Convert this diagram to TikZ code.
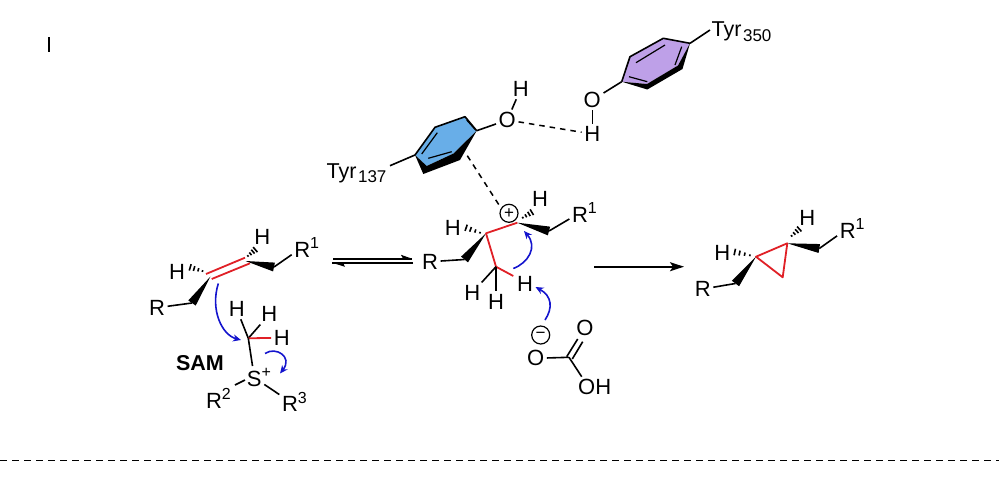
\documentclass[tikz,border=0pt]{standalone}
\usepackage{fontspec}
\setmainfont{Liberation Sans}
\usetikzlibrary{calc,arrows.meta}
\definecolor{bondred}{RGB}{224,32,38}
\definecolor{curlyblue}{RGB}{20,20,205}
\definecolor{ringblue}{RGB}{104,174,232}
\definecolor{ringpurple}{RGB}{190,160,232}
\newcommand{\supa}[1]{\rlap{\raisebox{8.5pt}{\fontsize{16}{16}\selectfont #1}}}
\newcommand{\wedgebond}[3][4.5]{\fill ($(#3)!#1pt!90:(#2)$) -- (#2) -- ($(#3)!#1pt!-90:(#2)$) -- cycle;}
\newcommand{\hashbond}[2]{\foreach \t/\w in {0.1/0.9,0.38/1.7,0.66/2.5,0.92/3.3}{%
  \coordinate (hp) at ($(#1)!\t!(#2)$);
  \draw[bond] ($(hp)!\w pt!90:(#2)$) -- ($(hp)!\w pt!-90:(#2)$);}}
\tikzset{
  bond/.style={line width=1.6pt,black},
  innerbond/.style={line width=1.2pt,black},
  redbond/.style={line width=1.8pt,bondred},
  hbond/.style={line width=1.5pt,black,dash pattern=on 5.5pt off 5pt},
  atom/.style={inner sep=2.5pt,font=\fontsize{22}{22}\selectfont},
  label/.style={inner sep=0pt,anchor=base west,font=\fontsize{21.5}{21.5}\selectfont},
  charge/.style={circle,draw,line width=1.2pt,minimum size=18pt,inner sep=0pt,font=\fontsize{17}{17}\selectfont},
  curly/.style={line width=1.6pt,curlyblue,-{Stealth[length=8pt,width=7pt]}},
}
\begin{document}
\begin{tikzpicture}[x=1pt,y=-1pt]
\useasboundingbox (0,0) rectangle (999,477);

% stray mark and separator
\coordinate (marka) at (49,37); \coordinate (markb) at (49,52);
\draw[line width=1.2pt] (marka) -- (markb);
\coordinate (sepa) at (0,460.5); \coordinate (sepb) at (999,460.5);
\draw[line width=1.3pt,dash pattern=on 6.5pt off 5.5pt] (sepa) -- (sepb);

% ---------- Tyr350 ----------
\coordinate (pa) at (621.7,81.7); \coordinate (pb) at (630,56.7);
\coordinate (pc) at (663.3,38.3); \coordinate (pd) at (690,43.3);
\coordinate (pe) at (682.5,69);   \coordinate (pf) at (647.3,89.5);
\coordinate (pei) at (678,65.5);  \coordinate (pfi) at (647,84);
\fill[ringpurple] (pa) -- (pb) -- (pc) -- (pd) -- (pei) -- (pfi) -- cycle;
\fill[black] (pa) -- (pf) -- (pe) -- (pd) -- (pei) -- (pfi) -- cycle;
\draw[bond,line join=round] (pa) -- (pb) -- (pc) -- (pd);
\coordinate (p1a) at (636,62.7); \coordinate (p1b) at (665,45);
\coordinate (p2a) at (675,65);   \coordinate (p2b) at (681.7,46.7);
\coordinate (p3a) at (629,76.7); \coordinate (p3b) at (647.3,81.7);
\draw[innerbond] (p1a) -- (p1b) (p2a) -- (p2b) (p3a) -- (p3b);
\node[label] (tyr350) at (711.5,36.5) {Tyr\raisebox{-4.5pt}{\hspace{1.5pt}\fontsize{17}{17}\selectfont 350}};
\coordinate (t350) at (710,30);
\draw[bond] (pd) -- (t350);
\node[atom] (o350) at (592.3,100) {O};
\node[atom] (h350) at (592.3,134) {H};
\draw[bond] (pa) -- (o350);
\draw[bond] (o350) -- (h350);

% ---------- Tyr137 ----------
\coordinate (ba) at (415,155);     \coordinate (bb) at (435,127.3);
\coordinate (bc) at (465,116.7);   \coordinate (bd) at (476.7,130.7);
\coordinate (be) at (460,160);     \coordinate (bf) at (423.3,174);
\coordinate (bei) at (453.5,153.5); \coordinate (bfi) at (426.7,166);
\fill[ringblue] (ba) -- (bb) -- (bc) -- (bd) -- (bei) -- (bfi) -- cycle;
\fill[black] (ba) -- (bf) -- (be) -- (bd) -- (bei) -- (bfi) -- cycle;
\draw[bond,line join=round] (ba) -- (bb) -- (bc) -- (bd);
\coordinate (b1a) at (421.7,154);  \coordinate (b1b) at (437.3,132.7);
\coordinate (b2a) at (428.3,158.3); \coordinate (b2b) at (451.7,151.7);
\coordinate (b3a) at (466.7,120);  \coordinate (b3b) at (475,129.3);
\draw[innerbond] (b1a) -- (b1b) (b2a) -- (b2b) (b3a) -- (b3b);
\node[label] (tyr137) at (326.5,178) {Tyr\raisebox{-4.5pt}{\hspace{1.5pt}\fontsize{17}{17}\selectfont 137}};
\coordinate (t137) at (390,165.7);
\draw[bond] (ba) -- (t137);
\node[atom] (o137) at (507.3,120) {O};
\node[atom] (h137) at (520.7,89) {H};
\draw[bond] (bd) -- (o137);
\draw[bond] (o137) -- (h137);
\draw[hbond] (o137) -- (h350);

% ---------- left alkene ----------
\coordinate (ac1) at (210.5,276.5); \coordinate (ac2) at (245.5,261);
\coordinate (ac3) at (192,303);     \coordinate (ac4) at (274,267);
\coordinate (aal) at (206,274);     \coordinate (aar) at (245,257.7);
\coordinate (abl) at (211.7,279);   \coordinate (abr) at (250,263.3);
\wedgebond{ac1}{ac3}
\wedgebond{ac2}{ac4}
\draw[redbond] (aal) -- (aar) (abl) -- (abr);
\node[atom] (ar) at (157,307.7) {R};
\node[atom] (ar1) at (302.3,247.3) {R\supa{1}};
\node[atom] (ahl) at (177,272) {H};
\node[atom] (aht) at (262.3,236.7) {H};
\draw[bond] (ac3) -- (ar);
\draw[bond] (ac4) -- (ar1);
\coordinate (ahla) at (204,271.5); \coordinate (ahlb) at (189,267);
\coordinate (ahta) at (247,256.7); \coordinate (ahtb) at (256,249);
\hashbond{ahla}{ahlb}
\hashbond{ahta}{ahtb}

% ---------- SAM ----------
\coordinate (me) at (248.3,338.3);
\node[atom] (sh1) at (236.7,309) {H};
\node[atom] (sh2) at (269.3,314.3) {H};
\node[atom] (sh3) at (281.7,337.7) {H};
\node[atom] (sulf) at (254.3,377.7) {S\supa{+}};
\node[atom] (r2) at (214,398.3) {R\supa{2}};
\node[atom] (r3) at (290,401.7) {R\supa{3}};
\coordinate (sr2) at (235,385);
\coordinate (sr2s) at (245,380);
\draw[bond] (me) -- (sh1);
\draw[bond] (me) -- (sh2);
\draw[redbond] (me) -- (sh3);
\draw[bond] (me) -- (sulf);
\draw[bond] (sr2s) -- (sr2);
\draw[bond] (sulf) -- (r3);
\node[inner sep=0pt,font=\fontsize{21.5}{21.5}\selectfont\bfseries] (sam) at (200,362.7) {SAM};
\coordinate (cu1a) at (218.3,283.5); \coordinate (cu1b) at (241,340);
\draw[curly] (cu1a) .. controls (210,310) and (222,335) .. (cu1b);
\coordinate (cu2a) at (265,353.5); \coordinate (cu2b) at (280,373.5);
\draw[curly] (cu2a) .. controls (276,346) and (293,357) .. (cu2b);

% equilibrium arrows
\coordinate (eqa) at (333,258.7);  \coordinate (eqb) at (412,258.7);
\coordinate (eqc) at (413,262.7);  \coordinate (eqd) at (332,262.7);
\coordinate (eqe) at (401,254.8);  \coordinate (eqf) at (345,266.8);
\draw[line width=1.6pt] (eqa) -- (eqb);
\draw[line width=1.6pt] (eqc) -- (eqd);
\fill (eqb) -- (eqe) -- (403,258.7) -- cycle;
\fill (eqd) -- (eqf) -- (343,262.7) -- cycle;

% ---------- carbocation ----------
\coordinate (cc1) at (486,233.3); \coordinate (cc2) at (517.3,222.7);
\coordinate (cc3) at (496,266.7); \coordinate (cc4) at (464.5,259.5);
\coordinate (cc5) at (549,231);
\wedgebond{cc1}{cc4}
\wedgebond{cc2}{cc5}
\node[atom] (cr) at (430,261.7) {R};
\node[atom] (cr1) at (580,212.7) {R\supa{1}};
\draw[bond] (cc4) -- (cr);
\draw[bond] (cc5) -- (cr1);
\coordinate (chle) at (513.3,276);
\draw[redbond,line join=round] (cc2) -- (cc1) -- (cc3) -- (chle);
\node[atom] (chr) at (525,284) {H};
\node[atom] (chb1) at (472.3,292.7) {H};
\node[atom] (chb2) at (496,301.7) {H};
\draw[bond] (cc3) -- (chb1);
\draw[bond] (cc3) -- (chb2);
\node[atom,inner sep=0pt] (chl) at (452.7,228.3) {H};
\node[atom,inner sep=0pt] (cht) at (540,199.3) {H};
\coordinate (chla) at (481.7,233.3); \coordinate (chlb) at (464.8,227.3);
\coordinate (chta) at (521.7,218.3); \coordinate (chtb) at (532.7,211.7);
\hashbond{chla}{chlb}
\hashbond{chta}{chtb}
\node[charge] (plus) at (509,213.3) {+};
\coordinate (dsa) at (467.3,155.7); \coordinate (dsb) at (500,206.5);
\draw[hbond] (dsa) -- (dsb);
\coordinate (cu3a) at (513.3,268.5); \coordinate (cu3b) at (524,231);
\draw[curly] (cu3a) .. controls (528,263) and (538,247) .. (cu3b);
\coordinate (cu4a) at (545,320); \coordinate (cu4b) at (535.5,287);
\draw[curly] (cu4a) .. controls (553,308) and (552,296) .. (cu4b);

% ---------- bicarbonate ----------
\node[charge] (minus) at (540.7,335) {−};
\node[atom] (bo1) at (535.7,358.3) {O};
\coordinate (bcc) at (569,357.3);
\node[atom] (bo2) at (585,328.3) {O};
\node[atom,anchor=west,inner sep=0pt] (boh) at (578,386.7) {OH};
\coordinate (bohb) at (581.7,376.7);
\draw[bond] (bo1) -- (bcc);
\draw[bond] (bcc) -- (bohb);
\coordinate (d1a) at (566.7,356.7); \coordinate (d1b) at (577.7,339);
\coordinate (d2a) at (572.3,359);   \coordinate (d2b) at (582.7,341.7);
\draw[bond] (d1a) -- (d1b) (d2a) -- (d2b);

% reaction arrow
\coordinate (raa) at (594,266.7); \coordinate (rab) at (684,266.7);
\draw[line width=1.6pt,-{Stealth[length=14pt,width=9pt,inset=3pt]}] (raa) -- (rab);

% ---------- product ----------
\coordinate (pc1) at (756,256.7); \coordinate (pc2) at (787.3,243.3);
\coordinate (pc3) at (782.7,277.3); \coordinate (pc4) at (735.5,283.5);
\coordinate (pc5) at (819.3,248.5);
\wedgebond{pc1}{pc4}
\wedgebond{pc2}{pc5}
\draw[redbond,line join=round] (pc1) -- (pc2) -- (pc3) -- cycle;
\node[atom] (pr) at (702.7,289) {R};
\node[atom] (pr1) at (847.7,228.3) {R\supa{1}};
\draw[bond] (pc4) -- (pr);
\draw[bond] (pc5) -- (pr1);
\node[atom,inner sep=0pt] (phl) at (722.3,253.3) {H};
\node[atom,inner sep=0pt] (pht) at (807.3,217.7) {H};
\coordinate (phla) at (751.7,255.7); \coordinate (phlb) at (733.3,251.7);
\coordinate (phta) at (790.7,236.7); \coordinate (phtb) at (800,228.3);
\hashbond{phla}{phlb}
\hashbond{phta}{phtb}
\end{tikzpicture}
\end{document}
